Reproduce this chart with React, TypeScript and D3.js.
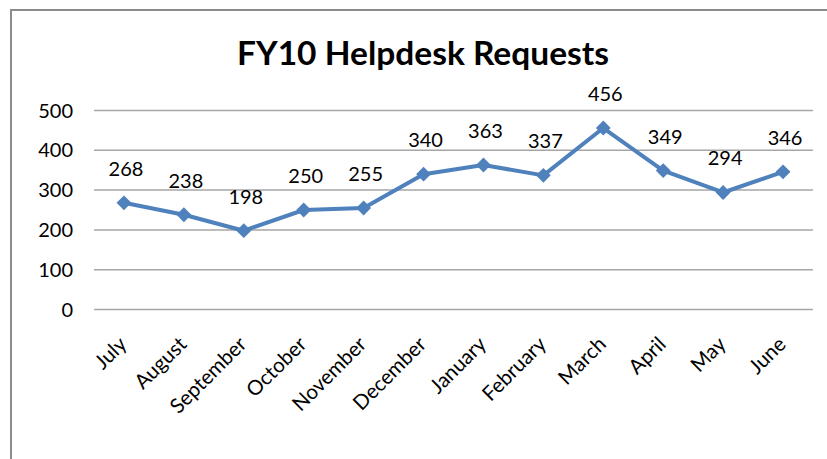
import React, { useEffect, useRef } from 'react';
import * as d3 from 'd3';

const months = ['July', 'August', 'September', 'October', 'November', 'December', 'January', 'February', 'March', 'April', 'May', 'June'];
const requests = [268, 238, 198, 250, 255, 340, 363, 337, 456, 349, 294, 346];
const yTicks = [0, 100, 200, 300, 400, 500];

export default function App() {
    const svgRef = useRef<SVGSVGElement>(null);

    useEffect(() => {
        if (!svgRef.current) return;
        const svg = d3.select(svgRef.current);
        svg.selectAll('*').remove();

        const width = 827;
        const height = 459;
        const plot = { left: 94, right: 813, top: 110.5, bottom: 309.5 };
        const font = 'Lato, "Open Sans", sans-serif';

        svg.append('rect')
            .attr('width', width).attr('height', height)
            .attr('fill', '#fff');

        // chart border (only top/left visible in the crop)
        svg.append('rect')
            .attr('x', 11).attr('y', 10)
            .attr('width', 900).attr('height', 600)
            .attr('fill', 'none')
            .attr('stroke', '#8c8c8c')
            .attr('stroke-width', 2);

        svg.append('text')
            .attr('x', 423).attr('y', 65)
            .attr('text-anchor', 'middle')
            .attr('font-family', font)
            .attr('font-weight', 'bold')
            .attr('font-size', 32)
            .attr('textLength', 372)
            .attr('lengthAdjust', 'spacingAndGlyphs')
            .attr('fill', '#000')
            .text('FY10 Helpdesk Requests');

        const x = d3.scaleBand<string>().domain(months).range([plot.left, plot.right]);
        const y = d3.scaleLinear().domain([0, 500]).range([plot.bottom, plot.top]);
        const cx = (m: string) => (x(m) || 0) + x.bandwidth() / 2;

        // gridlines
        svg.append('g')
            .selectAll('line')
            .data(yTicks)
            .join('line')
            .attr('x1', plot.left).attr('x2', plot.right)
            .attr('y1', d => y(d)).attr('y2', d => y(d))
            .attr('stroke', '#a6a6a6')
            .attr('stroke-width', 1.5);

        // y labels
        svg.append('g')
            .selectAll('text')
            .data(yTicks)
            .join('text')
            .attr('x', 73)
            .attr('y', d => y(d) + 7)
            .attr('text-anchor', 'end')
            .attr('font-family', font)
            .attr('font-size', 20)
            .attr('fill', '#000')
            .text(d => d);

        // x labels
        svg.append('g')
            .selectAll('text')
            .data(months)
            .join('text')
            .attr('transform', d => `translate(${cx(d) + 4},${plot.bottom + 36}) rotate(-45)`)
            .attr('text-anchor', 'end')
            .attr('font-family', font)
            .attr('font-size', 20.5)
            .attr('fill', '#000')
            .text(d => d);

        const data = months.map((m, i) => ({ m, v: requests[i] }));

        const line = d3.line<{ m: string; v: number }>()
            .x(d => cx(d.m))
            .y(d => y(d.v));

        svg.append('path')
            .datum(data)
            .attr('d', line)
            .attr('fill', 'none')
            .attr('stroke', '#4f81bd')
            .attr('stroke-width', 4)
            .attr('stroke-linejoin', 'round');

        const marker = d3.symbol().type(d3.symbolSquare).size(110);
        svg.append('g')
            .selectAll('path')
            .data(data)
            .join('path')
            .attr('transform', d => `translate(${cx(d.m)},${y(d.v)}) rotate(45)`)
            .attr('d', marker)
            .attr('fill', '#4f81bd');

        // data labels
        svg.append('g')
            .selectAll('text')
            .data(data)
            .join('text')
            .attr('x', d => cx(d.m) + 2)
            .attr('y', d => y(d.v) - 27)
            .attr('text-anchor', 'middle')
            .attr('font-family', font)
            .attr('font-size', 20)
            .attr('fill', '#000')
            .text(d => d.v);
    }, []);

    return (
        <svg ref={svgRef} width={827} height={459} style={{ position: 'absolute', left: 0, top: 0 }} />
    );
}
